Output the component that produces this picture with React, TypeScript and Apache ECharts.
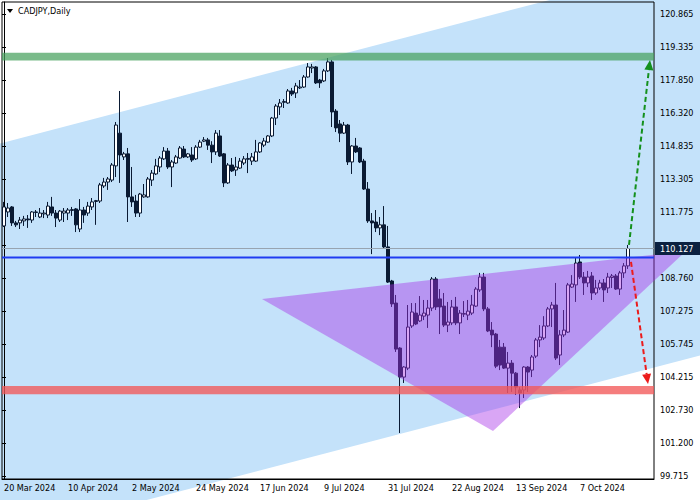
import React, { useEffect, useRef } from "react";
import * as echarts from "echarts";

const chartTitle = "CADJPY,Daily";
const xTickLabels = ["20 Mar 2024", "10 Apr 2024", "2 May 2024", "24 May 2024", "17 Jun 2024", "9 Jul 2024", "31 Jul 2024", "22 Aug 2024", "13 Sep 2024", "7 Oct 2024"];
const xTickEvery = 16;
const yTickLabels = ["99.715", "101.200", "102.730", "104.215", "105.745", "107.275", "108.760", "110.290", "111.775", "113.305", "114.835", "116.320", "117.850", "119.335", "120.865"];
const yTickStep = 99.715 / 66;
const yMin = 99.573;
const yMax = 121.414;
const futureBars = 6;

// [open, close, low, high]
const candles = [
  [111.16, 112.03, 111.11, 112.26], [111.80, 111.98, 111.57, 112.21], [112.03, 111.30, 111.16, 112.07], [111.30, 111.21, 111.11, 111.39],
  [111.30, 111.43, 111.02, 111.57], [111.39, 111.48, 111.16, 111.62], [111.48, 111.44, 111.07, 111.66], [111.43, 111.80, 111.30, 111.84],
  [111.80, 111.78, 111.57, 111.89], [111.57, 111.75, 111.52, 111.98], [111.71, 111.75, 111.52, 111.89], [111.66, 112.07, 111.52, 112.26],
  [112.03, 111.75, 111.62, 112.49], [111.75, 111.52, 111.11, 111.89], [111.43, 111.84, 111.34, 111.89], [111.75, 111.84, 111.34, 111.98],
  [111.75, 111.89, 111.43, 111.98], [111.87, 111.91, 111.62, 112.03], [111.94, 111.21, 110.88, 111.98], [111.02, 111.89, 110.88, 112.39],
  [111.89, 111.66, 111.30, 112.03], [111.75, 112.07, 111.62, 112.26], [112.03, 112.26, 111.89, 112.44], [112.28, 112.32, 111.21, 112.35],
  [112.30, 113.04, 112.21, 113.13], [112.99, 113.17, 112.90, 113.36], [113.17, 113.31, 112.81, 113.40], [113.26, 113.95, 113.17, 114.04],
  [113.91, 115.78, 113.40, 115.92], [115.41, 114.41, 113.13, 117.34], [114.32, 114.46, 114.18, 114.55], [114.46, 112.49, 111.34, 114.73],
  [112.49, 112.26, 112.03, 113.86], [112.30, 111.75, 111.57, 112.58], [111.75, 112.62, 111.57, 112.67], [112.49, 112.58, 112.45, 113.08],
  [112.49, 113.31, 112.45, 113.40], [113.26, 113.58, 112.99, 113.72], [113.54, 113.91, 113.49, 114.23], [113.86, 114.27, 113.63, 114.36],
  [114.23, 114.59, 114.18, 114.77], [114.59, 113.86, 113.77, 114.73], [113.86, 114.09, 112.94, 114.18], [114.04, 114.32, 114.00, 114.41],
  [114.27, 114.73, 114.23, 114.82], [114.68, 114.32, 114.27, 114.82], [114.32, 114.46, 114.27, 114.50], [114.41, 114.18, 114.09, 114.77],
  [114.23, 114.77, 114.18, 114.86], [114.77, 115.00, 114.73, 115.10], [115.04, 115.10, 115.00, 115.23], [115.10, 114.86, 114.64, 115.19],
  [114.86, 114.55, 114.04, 115.04], [114.55, 115.41, 114.41, 115.55], [115.28, 114.36, 114.32, 115.55], [114.46, 113.13, 112.94, 114.50],
  [113.13, 113.95, 113.08, 114.04], [113.95, 113.68, 113.63, 114.27], [113.72, 113.86, 113.45, 114.32], [113.81, 114.13, 113.77, 114.27],
  [114.04, 114.23, 113.95, 114.36], [114.21, 114.25, 113.58, 114.50], [114.13, 114.32, 113.95, 114.50], [114.13, 114.55, 114.09, 115.10],
  [114.55, 114.96, 114.50, 115.00], [114.86, 115.05, 114.77, 115.19], [115.00, 115.28, 114.96, 115.32], [115.28, 116.10, 115.23, 116.15],
  [116.10, 116.65, 115.78, 116.74], [116.61, 116.79, 116.24, 116.97], [116.82, 116.86, 116.56, 116.97], [116.79, 117.34, 116.75, 117.43],
  [117.34, 117.20, 117.11, 117.48], [117.25, 117.57, 117.02, 117.71], [117.48, 117.52, 117.43, 117.84], [117.52, 117.98, 117.48, 118.07],
  [117.98, 118.44, 117.95, 118.62], [118.39, 118.44, 118.16, 118.58], [118.44, 117.71, 117.66, 118.48], [117.84, 117.71, 117.48, 117.89],
  [117.80, 118.26, 117.75, 118.35], [118.26, 118.67, 118.21, 118.85], [118.67, 116.38, 115.69, 118.76], [116.42, 115.65, 115.46, 116.51],
  [115.83, 115.41, 115.00, 116.01], [115.41, 115.78, 115.37, 115.92], [115.78, 114.09, 113.95, 115.83], [114.09, 114.82, 113.54, 114.86],
  [114.82, 114.55, 114.50, 115.19], [114.73, 114.09, 114.04, 114.77], [114.13, 112.85, 112.81, 114.23], [112.85, 111.39, 111.30, 113.17],
  [111.39, 111.30, 109.87, 111.75], [111.34, 111.07, 110.88, 111.89], [111.07, 111.21, 110.74, 111.57], [111.21, 110.20, 110.15, 112.07],
  [110.20, 108.59, 108.55, 111.16], [108.64, 107.59, 107.45, 108.69], [107.63, 105.52, 105.39, 108.00], [105.57, 104.24, 101.68, 105.61],
  [104.24, 104.70, 103.97, 104.74], [104.65, 106.53, 104.56, 107.54], [106.58, 107.22, 106.49, 107.63], [107.17, 106.67, 106.62, 107.63],
  [106.81, 107.08, 106.76, 107.95], [107.03, 107.17, 106.85, 107.77], [107.08, 107.40, 106.49, 107.77], [107.40, 108.73, 107.26, 108.82],
  [108.73, 107.45, 107.31, 108.82], [107.82, 107.45, 106.21, 108.27], [107.49, 106.62, 106.53, 108.09], [106.62, 106.76, 106.30, 107.68],
  [106.72, 107.45, 106.62, 107.77], [107.45, 106.72, 106.62, 107.91], [106.72, 107.17, 106.21, 107.31], [107.12, 107.15, 106.99, 107.72],
  [107.08, 107.26, 106.85, 107.77], [107.17, 107.54, 107.08, 108.00], [107.49, 108.27, 107.45, 108.36], [108.23, 108.82, 108.14, 109.01],
  [108.82, 107.36, 107.26, 109.01], [107.36, 106.35, 106.30, 107.45], [106.39, 106.17, 105.61, 106.76], [106.21, 104.74, 104.65, 106.26],
  [105.61, 104.79, 104.56, 105.94], [105.61, 104.65, 104.61, 105.80], [104.65, 104.88, 103.51, 105.39], [104.88, 104.42, 103.56, 105.02],
  [104.42, 103.78, 103.42, 104.47], [103.65, 103.51, 102.82, 103.78], [103.65, 104.70, 103.28, 104.74], [104.70, 104.47, 103.56, 104.74],
  [104.56, 105.16, 104.24, 105.25], [105.20, 105.94, 105.11, 106.03], [105.94, 106.07, 105.61, 106.62], [106.03, 106.58, 105.94, 107.03],
  [106.58, 107.36, 106.53, 107.45], [107.36, 107.54, 106.53, 107.68], [107.54, 105.11, 105.02, 108.55], [105.25, 106.17, 104.79, 106.39],
  [106.17, 106.39, 106.07, 107.31], [106.30, 108.46, 106.26, 108.55], [108.36, 108.50, 108.32, 108.91], [108.46, 109.46, 107.68, 109.69],
  [109.51, 108.82, 108.73, 109.83], [108.82, 108.55, 108.00, 109.05], [108.55, 108.82, 108.36, 109.10], [108.87, 108.09, 107.77, 109.05],
  [108.09, 108.32, 108.00, 108.69], [108.32, 108.55, 108.23, 108.69], [108.55, 108.23, 107.68, 108.73], [108.32, 108.82, 108.09, 109.01],
  [108.80, 108.87, 108.32, 108.96], [108.87, 108.27, 108.23, 108.96], [108.27, 109.01, 108.00, 109.10], [109.01, 109.33, 108.78, 109.46],
  [109.33, 110.127, 109.19, 110.29],
];

const lastPrice = 110.127;
const resistanceBand = [118.73, 119.09];
const supportBand = [103.45, 103.83];
const blueLevel = 109.72;
// [bar index, price]
const channelUpper = [[-1, 114.94], [175, 123.35]];
const channelLower = [[-1, 96.86], [175, 105.27]];
const triangle = [[64.5, 107.81], [170.5, 110.01], [122.25, 101.77]];
const upArrow = [[156.25, 110.29], [161.5, 118.76]];
const downArrow = [[156.75, 109.51], [161, 103.92]];

const totalBars = candles.length + futureBars;
const categories = Array.from({ length: totalBars }, (_, i) => String(i));
const FONT = '"DejaVu Sans Condensed", "Liberation Sans", sans-serif';

const PLOT_H = 477;
const tickFirst = parseFloat(yTickLabels[0]);
const tickLast = tickFirst + (yTickLabels.length - 1) * yTickStep;
const pxPerUnit = PLOT_H / (yMax - yMin);

function overlay(z: number, clip: boolean, render: (api: any) => any) {
  return {
    type: "custom",
    xAxisIndex: 1,
    yAxisIndex: 0,
    z,
    clip,
    silent: true,
    data: [[0, 110]],
    renderItem: (_p: any, api: any) => render(api),
  };
}

function arrowShape(api: any, from: number[], to: number[], color: string) {
  const a = api.coord(from);
  const b = api.coord(to);
  const dx = b[0] - a[0];
  const dy = b[1] - a[1];
  const len = Math.hypot(dx, dy);
  const ux = dx / len;
  const uy = dy / len;
  const headLen = 10;
  const headW = 4.5;
  const base = [b[0] - ux * headLen, b[1] - uy * headLen];
  return {
    type: "group",
    children: [
      { type: "line", shape: { x1: a[0], y1: a[1], x2: base[0], y2: base[1] }, style: { stroke: color, lineWidth: 2, lineDash: [5, 3] } },
      {
        type: "polygon",
        shape: { points: [b, [base[0] - uy * headW, base[1] + ux * headW], [base[0] + uy * headW, base[1] - ux * headW]] },
        style: { fill: color },
      },
    ],
  };
}

export default function App() {
  const ref = useRef<HTMLDivElement>(null);
  useEffect(() => {
    if (!ref.current) return;
    const chart = echarts.init(ref.current, undefined, { renderer: "svg" });
    const top2 = 2 + (yMax - tickLast) * pxPerUnit;
    const bottom2 = 21 + (tickFirst - yMin) * pxPerUnit;
    // the current-price tag covers any scale label that sits too close to it
    const hiddenByTag = (v: number) => Math.abs(v - lastPrice) * pxPerUnit < 10;
    chart.setOption({
      animation: false,
      backgroundColor: "#ffffff",
      grid: [
        { left: 2, right: 46, top: 2, bottom: 21, show: true, borderColor: "#000", borderWidth: 1, backgroundColor: "transparent" },
        { left: 2, right: 46, top: top2, bottom: bottom2, show: false },
      ],
      graphic: [
        { type: "polygon", shape: { points: [[7, 9], [13, 9], [10, 13]] }, style: { fill: "#000" }, z: 10 },
        { type: "text", left: 18, top: 6, style: { text: chartTitle, fontSize: 9, fontFamily: FONT, fill: "#000" }, z: 10 },
      ],
      xAxis: [
        {
          type: "category",
          gridIndex: 0,
          data: categories,
          boundaryGap: true,
          axisLine: { lineStyle: { color: "#000", width: 1 } },
          axisTick: { interval: (i: number) => i % xTickEvery === 0 && i / xTickEvery < xTickLabels.length, alignWithLabel: true, length: 4, lineStyle: { color: "#000" } },
          axisLabel: {
            interval: (i: number) => i % xTickEvery === 0 && i / xTickEvery < xTickLabels.length,
            formatter: (_v: string, i: number) => xTickLabels[i / xTickEvery] ?? "",
            align: "left",
            margin: 4,
            fontSize: 9,
            fontFamily: FONT,
            color: "#000",
          },
          splitLine: { show: false },
        },
        { type: "value", gridIndex: 0, min: -0.5, max: totalBars - 0.5, show: false },
        { type: "value", gridIndex: 1, min: 0, max: 1, show: false },
      ],
      yAxis: [
        {
          type: "value",
          gridIndex: 0,
          position: "right",
          min: yMin,
          max: yMax,
          axisLine: { show: true, lineStyle: { color: "#000" } },
          axisTick: { show: false },
          axisLabel: { show: false },
          splitLine: { show: false },
        },
        {
          type: "value",
          gridIndex: 1,
          position: "right",
          min: tickFirst,
          max: tickLast,
          interval: yTickStep,
          axisLine: { show: false },
          axisTick: { show: true, length: 4, lineStyle: { color: "#000" } },
          axisLabel: {
            formatter: (v: number) => (hiddenByTag(v) ? "" : yTickLabels[Math.round((v - tickFirst) / yTickStep)] ?? ""),
            margin: 6,
            fontSize: 9,
            fontFamily: FONT,
            color: "#000",
          },
          splitLine: { show: false },
        },
      ],
      series: [
        overlay(-1, false, (api) => ({
          type: "polygon",
          shape: { points: [channelUpper[0], channelUpper[1], channelLower[1], channelLower[0]].map((p) => api.coord(p)) },
          style: { fill: "#c4e2fa" },
        })),
        {
          type: "candlestick",
          xAxisIndex: 0,
          yAxisIndex: 0,
          data: candles,
          barWidth: 3,
          z: 2,
          itemStyle: { color: "#ffffff", color0: "#0a1a33", borderColor: "#0a1a33", borderColor0: "#0a1a33", borderWidth: 1 },
        },
        overlay(3, false, (api) => ({
          type: "polygon",
          shape: { points: triangle.map((p) => api.coord(p)) },
          style: { fill: "rgba(167,48,232,0.43)" },
        })),
        overlay(4, true, (api) => {
          const g1 = api.coord([-0.5, resistanceBand[1]]);
          const g2 = api.coord([totalBars - 0.5, resistanceBand[0]]);
          const r1 = api.coord([-0.5, supportBand[1]]);
          const r2 = api.coord([totalBars - 0.5, supportBand[0]]);
          return {
            type: "group",
            children: [
              { type: "rect", shape: { x: g1[0], y: g1[1], width: g2[0] - g1[0], height: g2[1] - g1[1] }, style: { fill: "rgba(71,161,93,0.72)" } },
              { type: "rect", shape: { x: r1[0], y: r1[1], width: r2[0] - r1[0], height: r2[1] - r1[1] }, style: { fill: "rgba(242,88,88,0.78)" } },
            ],
          };
        }),
        overlay(5, true, (api) => {
          const p1 = api.coord([-0.5, lastPrice]);
          const p2 = api.coord([totalBars - 0.5, lastPrice]);
          const b1 = api.coord([-0.5, blueLevel]);
          const b2 = api.coord([totalBars - 0.5, blueLevel]);
          return {
            type: "group",
            children: [
              { type: "line", shape: { x1: p1[0], y1: p1[1], x2: p2[0], y2: p2[1] }, style: { stroke: "#98a4b0", lineWidth: 1 } },
              { type: "line", shape: { x1: b1[0], y1: b1[1], x2: b2[0], y2: b2[1] }, style: { stroke: "#1f3cf2", lineWidth: 2 } },
            ],
          };
        }),
        overlay(6, false, (api) => ({
          type: "group",
          children: [arrowShape(api, upArrow[0], upArrow[1], "#14901c"), arrowShape(api, downArrow[0], downArrow[1], "#ec1b1b")],
        })),
        overlay(7, false, (api) => {
          const p = api.coord([totalBars - 0.5, lastPrice]);
          return {
            type: "group",
            children: [
              { type: "rect", shape: { x: p[0] + 1, y: p[1] - 6.5, width: 46, height: 13 }, style: { fill: "#0b2140" } },
              { type: "text", style: { x: p[0] + 6, y: p[1], text: lastPrice.toFixed(3), fill: "#ffffff", fontSize: 9, fontFamily: FONT, verticalAlign: "middle" } },
            ],
          };
        }),
      ],
    });
    return () => chart.dispose();
  }, []);
  return <div ref={ref} style={{ position: "fixed", left: 0, top: 0, width: 700, height: 500, overflow: "hidden" }} />;
}
